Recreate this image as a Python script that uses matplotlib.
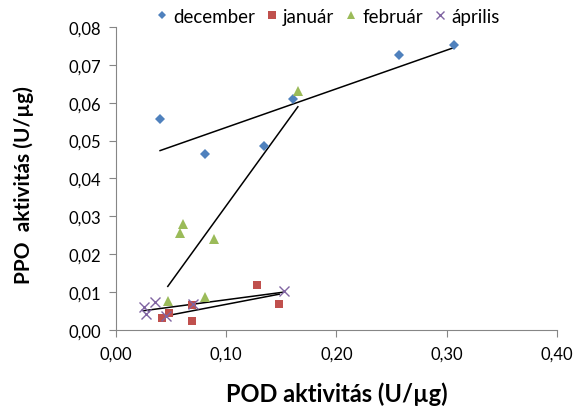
import numpy as np
import matplotlib.pyplot as plt
from matplotlib.ticker import MultipleLocator, FuncFormatter

plt.rcParams['font.family'] = ['Lato', 'DejaVu Sans']

# POD (x) and PPO (y) activity per month
dec_x = [0.040, 0.081, 0.134, 0.161, 0.257, 0.307]
dec_y = [0.0557, 0.0466, 0.0485, 0.0611, 0.0726, 0.0752]

jan_x = [0.042, 0.048, 0.069, 0.069, 0.128, 0.148]
jan_y = [0.0031, 0.0045, 0.0066, 0.0024, 0.0119, 0.0068]

feb_x = [0.165, 0.061, 0.058, 0.0885, 0.047, 0.081]
feb_y = [0.0630, 0.0280, 0.0256, 0.0240, 0.0077, 0.0086]

apr_x = [0.025, 0.027, 0.035, 0.045, 0.070, 0.152]
apr_y = [0.0060, 0.0043, 0.0074, 0.0037, 0.0068, 0.0102]

series = [
    ('december', dec_x, dec_y, 'D', '#4F81BD', 5),
    ('január', jan_x, jan_y, 's', '#C0504D', 6),
    ('február', feb_x, feb_y, '^', '#9BBB59', 7),
    ('április', apr_x, apr_y, 'x', '#8064A2', 7),
]

fig = plt.figure(figsize=(5.73, 4.10), dpi=100)
ax = fig.add_axes([0.2024, 0.1927, 0.7696, 0.739])

for name, x, y, m, c, s in series:
    ax.plot(x, y, linestyle='none', marker=m, color=c, markersize=s,
            markeredgewidth=1 if m == 'x' else 0, label=name, zorder=3)

# linear trendlines
for name, x, y, m, c, s in series:
    k, b = np.polyfit(x, y, 1)
    xs = np.array([min(x), max(x)])
    ax.plot(xs, k * xs + b, color='black', linewidth=1.1, zorder=2)

ax.set_xlim(0, 0.40)
ax.set_ylim(0, 0.08)
ax.xaxis.set_major_locator(MultipleLocator(0.1))
ax.yaxis.set_major_locator(MultipleLocator(0.01))
fmt = FuncFormatter(lambda v, p: ('%.2f' % v).replace('.', ','))
ax.xaxis.set_major_formatter(fmt)
ax.yaxis.set_major_formatter(fmt)

for sp in ['top', 'right']:
    ax.spines[sp].set_visible(False)
for sp in ['left', 'bottom']:
    ax.spines[sp].set_color('#868686')
ax.tick_params(direction='out', length=5, color='#868686', labelsize=12, pad=6)

ax.set_xlabel('POD aktivitás (U/µg)', fontsize=17, fontweight='bold')
ax.xaxis.set_label_coords(0.5, -0.17)
ax.set_ylabel('PPO  aktivitás (U/µg)', fontsize=15, fontweight='bold')
ax.yaxis.set_label_coords(-0.185, 0.48)

leg = ax.legend(loc='center', bbox_to_anchor=(0.48, 1.035), ncol=4, frameon=False,
                fontsize=13.5, handlelength=0.6, handletextpad=0.3, columnspacing=0.6,
                borderaxespad=0, markerscale=0.85)

fig.savefig('out.png', dpi=100)
